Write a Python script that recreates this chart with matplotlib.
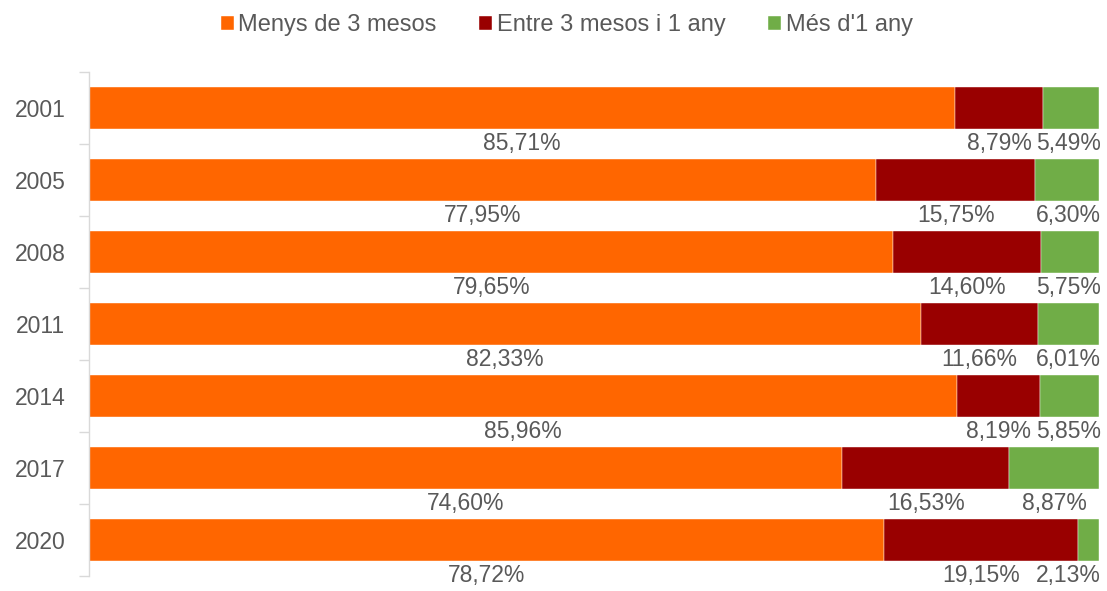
import matplotlib.pyplot as plt
import numpy as np

plt.rcParams['font.family'] = ['Liberation Sans', 'DejaVu Sans']

# dades
anys = ['2001', '2005', '2008', '2011', '2014', '2017', '2020']
menys_3_mesos = [85.71, 77.95, 79.65, 82.33, 85.96, 74.60, 78.72]
entre_3m_1any = [8.79, 15.75, 14.60, 11.66, 8.19, 16.53, 19.15]
mes_1_any = [5.49, 6.30, 5.75, 6.01, 5.85, 8.87, 2.13]

series = [
    ("Menys de 3 mesos", menys_3_mesos, '#FF6600'),
    ("Entre 3 mesos i 1 any", entre_3m_1any, '#990000'),
    ("Més d'1 any", mes_1_any, '#70AD47'),
]

text_color = '#595959'

fig = plt.figure(figsize=(11.07, 5.91), dpi=100)
ax = fig.add_axes([0.0804, 0.0254, 0.9124, 0.8528])

y = np.arange(len(anys))
left = np.zeros(len(anys))
for nom, vals, color in series:
    vals = np.array(vals)
    ax.barh(y, vals, left=left, height=0.57, color=color, label=nom,
            edgecolor='white', linewidth=0.3)
    # etiquetes sota cada segment
    for i, v in enumerate(vals):
        cx = left[i] + v / 2
        txt = f"{v:.2f}%".replace('.', ',')
        if cx + 3.4 > 100:
            ax.text(100.2, y[i] + 0.5, txt, ha='right', va='center',
                    fontsize=16.5, color=text_color)
        else:
            ax.text(cx, y[i] + 0.5, txt, ha='center', va='center',
                    fontsize=16.5, color=text_color)
    left = left + vals

ax.set_xlim(0, 100)
ax.set_ylim(len(anys) - 0.5, -0.5)
ax.set_yticks(y)
ax.set_yticklabels(anys, fontsize=16.5, color=text_color)
ax.set_yticks(np.arange(len(anys) + 1) - 0.5, minor=True)
ax.tick_params(axis='y', which='major', length=0, pad=17)
ax.tick_params(axis='y', which='minor', length=7, color='#D9D9D9', width=1)
ax.set_xticks([])
for s in ['top', 'right', 'bottom']:
    ax.spines[s].set_visible(False)
ax.spines['left'].set_color('#D9D9D9')
ax.spines['left'].set_linewidth(1)

leg = fig.legend(loc='upper center', bbox_to_anchor=(0.512, 1.012), ncol=3,
                 frameon=False, fontsize=17, handlelength=0.55, handleheight=0.55,
                 handletextpad=0.2, columnspacing=1.8)
for t in leg.get_texts():
    t.set_color(text_color)

fig.savefig('out.png', dpi=100)
